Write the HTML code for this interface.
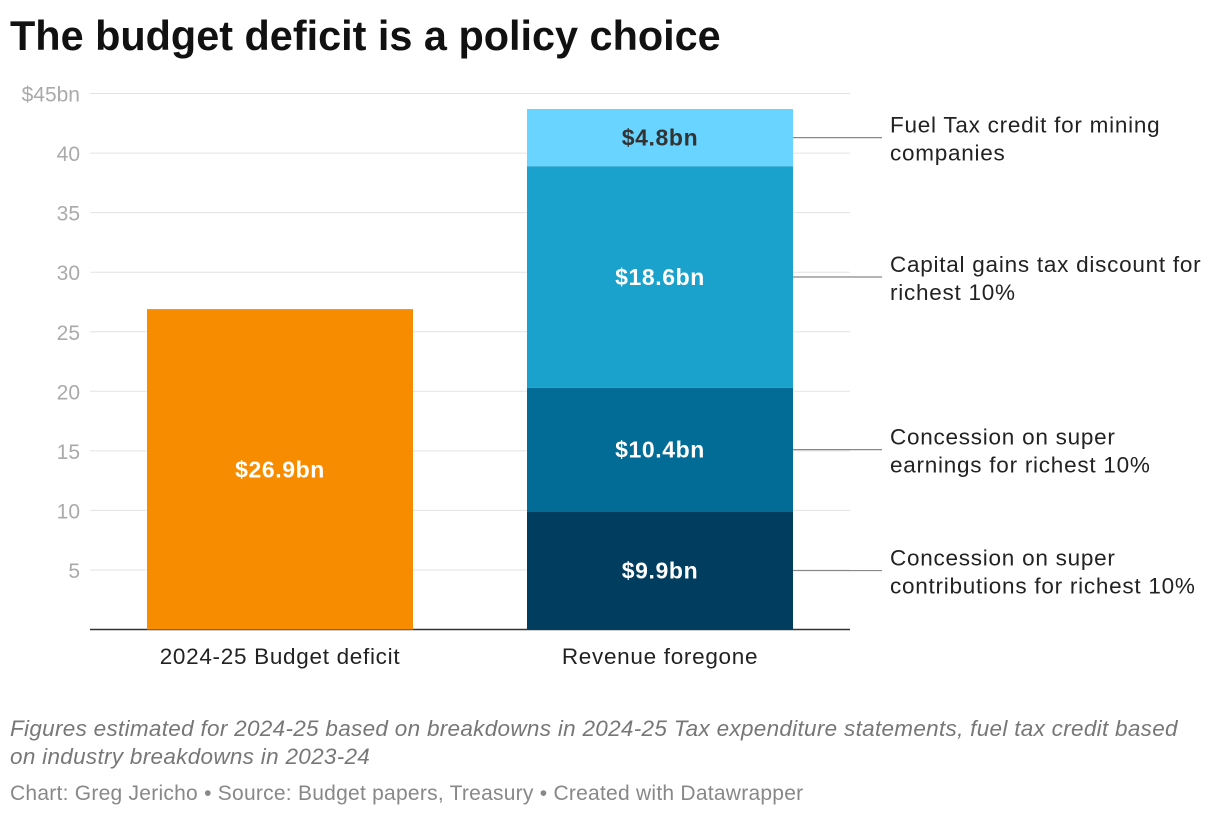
<!DOCTYPE html>
<html><head><meta charset="utf-8"><style>
body{margin:0;background:#fff;width:1220px;height:816px;overflow:hidden;font-family:"Liberation Sans",sans-serif}
svg text{font-family:"Liberation Sans",sans-serif}
</style></head><body>
<svg width="1220" height="816">
<text x="10" y="50" font-size="41.4" font-weight="bold" fill="#111">The budget deficit is a policy choice</text>
<g id="grid"></g>
<g id="bars"></g>
<g id="ann"></g>
<text x="10" y="736" font-size="22.5" letter-spacing="0.3" font-style="italic" fill="#777">Figures estimated for 2024-25 based on breakdowns in 2024-25 Tax expenditure statements, fuel tax credit based</text>
<text x="10" y="764" font-size="22.5" letter-spacing="0.3" font-style="italic" fill="#777">on industry breakdowns in 2023-24</text>
<text x="10" y="800" font-size="21" letter-spacing="0.25" fill="#888">Chart: Greg Jericho • Source: Budget papers, Treasury • Created with Datawrapper</text>
</svg>
<script>
const ticks=[5,10,15,20,25,30,35,40,45];
const tickLabels=["5","10","15","20","25","30","35","40","$45bn"];
const deficit=[26.9];
const segValues=[9.9,10.4,18.6,4.8];
const segLabels=["$9.9bn","$10.4bn","$18.6bn","$4.8bn"];
const segNames=[["Concession on super","contributions for richest 10%"],["Concession on super","earnings for richest 10%"],["Capital gains tax discount for","richest 10%"],["Fuel Tax credit for mining","companies"]];
const categories=["2024-25 Budget deficit","Revenue foregone"];
const colors=["#003d5e","#036c96","#1aa1cc","#69d4ff"];
const NS="http://www.w3.org/2000/svg";
const y0=629.5,pxPer=11.91;
const y=v=>y0-v*pxPer;
function mk(tag,attrs,parent,txt){const e=document.createElementNS(NS,tag);for(const k in attrs)e.setAttribute(k,attrs[k]);if(txt!=null)e.textContent=txt;parent.appendChild(e);return e;}
const grid=document.getElementById('grid'),bars=document.getElementById('bars'),ann=document.getElementById('ann');
ticks.forEach((t,i)=>{
 const l=mk('line',{x1:90,x2:850,y1:y(t),y2:y(t),stroke:'#e3e3e3','stroke-width':1},grid);
 
 
 const tx=mk('text',{x:80,y:y(t)+8,'text-anchor':'end','font-size':21,fill:'#aaa'},grid,tickLabels[i]);
 
 
});
const base=mk('line',{x1:90,x2:850,y1:y0,y2:y0,stroke:'#333','stroke-width':1.5},grid);


const bx=[147,527],bw=266;
const r=mk('rect',{x:bx[0],y:y(deficit[0]),width:bw,height:deficit[0]*pxPer,fill:'#f78c00'},bars);


const rl=mk('text',{x:bx[0]+bw/2,y:y(deficit[0]/2)+8,'text-anchor':'middle','font-size':23,'letter-spacing':0.6,'font-weight':'bold',fill:'#fff'},bars,'$'+deficit[0]+'bn');


let cum=0;
segValues.forEach((v,i)=>{
 const top=y(cum+v),mid=y(cum+v/2);
 const s=mk('rect',{x:bx[1],y:top,width:bw,height:v*pxPer,fill:colors[i]},bars);
 
 
 const t=mk('text',{x:bx[1]+bw/2,y:mid+8,'text-anchor':'middle','font-size':23,'letter-spacing':0.6,'font-weight':'bold',fill:i==3?'#333':'#fff'},bars,segLabels[i]);
 
 
 const ln=mk('line',{x1:793,x2:882,y1:mid,y2:mid,stroke:'#888','stroke-width':1.2},ann);
 
 
 segNames[i].forEach((s2,j)=>{
  const a=mk('text',{x:890,y:mid-5+j*28,'font-size':22.5,'letter-spacing':0.75,fill:'#222'},ann,s2);
  
  
 });
 cum+=v;
});
categories.forEach((c,i)=>{
 const t=mk('text',{x:bx[i]+bw/2,y:664,'text-anchor':'middle','font-size':22.5,'letter-spacing':0.7,fill:'#222'},grid,c);
 
 
});
</script>
</body></html>
